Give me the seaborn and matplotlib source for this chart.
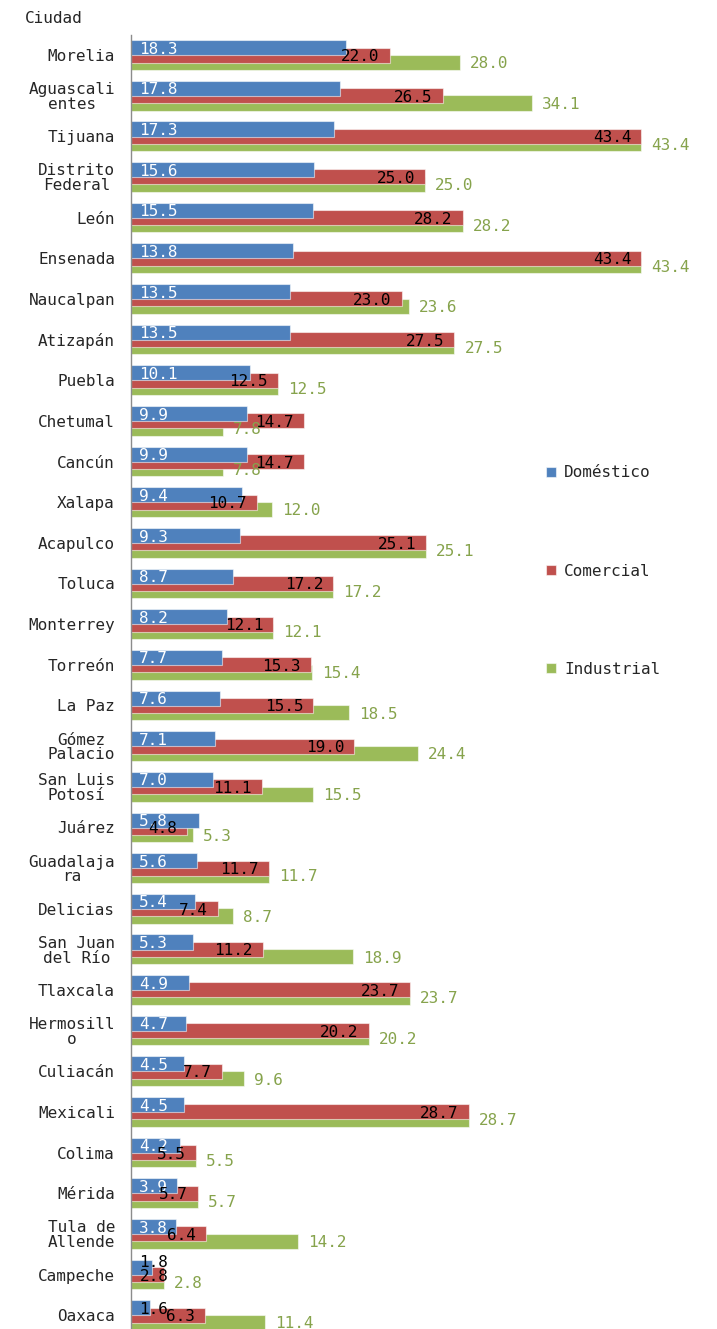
import textwrap

import matplotlib
matplotlib.use("Agg")
import matplotlib.pyplot as plt
import matplotlib.transforms as mtransforms
import pandas as pd
import seaborn as sns

# Tarifas por ciudad y tipo de usuario
ciudades = [
    "Morelia", "Aguascalientes", "Tijuana", "Distrito Federal", "León",
    "Ensenada", "Naucalpan", "Atizapán", "Puebla", "Chetumal", "Cancún",
    "Xalapa", "Acapulco", "Toluca", "Monterrey", "Torreón", "La Paz",
    "Gómez Palacio", "San Luis Potosí", "Juárez", "Guadalajara", "Delicias",
    "San Juan del Río", "Tlaxcala", "Hermosillo", "Culiacán", "Mexicali",
    "Colima", "Mérida", "Tula de Allende", "Campeche", "Oaxaca",
]
domestico = [
    18.3, 17.8, 17.3, 15.6, 15.5, 13.8, 13.5, 13.5, 10.1, 9.9, 9.9,
    9.4, 9.3, 8.7, 8.2, 7.7, 7.6, 7.1, 7.0, 5.8, 5.6, 5.4,
    5.3, 4.9, 4.7, 4.5, 4.5, 4.2, 3.9, 3.8, 1.8, 1.6,
]
comercial = [
    22.0, 26.5, 43.4, 25.0, 28.2, 43.4, 23.0, 27.5, 12.5, 14.7, 14.7,
    10.7, 25.1, 17.2, 12.1, 15.3, 15.5, 19.0, 11.1, 4.8, 11.7, 7.4,
    11.2, 23.7, 20.2, 7.7, 28.7, 5.5, 5.7, 6.4, 2.8, 6.3,
]
industrial = [
    28.0, 34.1, 43.4, 25.0, 28.2, 43.4, 23.6, 27.5, 12.5, 7.8, 7.8,
    12.0, 25.1, 17.2, 12.1, 15.4, 18.5, 24.4, 15.5, 5.3, 11.7, 8.7,
    18.9, 23.7, 20.2, 9.6, 28.7, 5.5, 5.7, 14.2, 2.8, 11.4,
]
series_nombres = ["Doméstico", "Comercial", "Industrial"]

AZUL, ROJO, VERDE = "#4F81BD", "#C0504D", "#9BBB59"
VERDE_TXT = "#86A34C"
FS = 11.5

sns.set_style("white")
plt.rcParams["font.family"] = ["DejaVu Sans Mono", "DejaVu Sans"]
plt.rcParams["font.size"] = FS

df = pd.DataFrame({
    "Ciudad": ciudades,
    "Doméstico": domestico,
    "Comercial": comercial,
    "Industrial": industrial,
})

W, H = 717, 1329
fig = plt.figure(figsize=(W / 100, H / 100), dpi=100)
ax = fig.add_axes([131 / W, 1 - 1335.5 / H, 541 / W, 1300.8 / H])

alto = 0.37     # grosor de cada barra
desp = 0.18     # desplazamiento vertical entre series superpuestas
capas = [("Industrial", VERDE, desp), ("Comercial", ROJO, 0.0), ("Doméstico", AZUL, -desp)]
manejadores = {}
for nombre, color, d in capas:
    n0 = len(ax.patches)
    sns.barplot(
        data=df, x=nombre, y="Ciudad", orient="h", color=color, saturation=1,
        width=alto, errorbar=None, ax=ax,
        edgecolor=(1, 1, 1, 0.55), linewidth=0.8,
    )
    nuevos = ax.patches[n0:]
    for p in nuevos:
        p.set_y(p.get_y() + d)
    manejadores[nombre] = nuevos[0]

n = len(ciudades)
ax.set_xlim(0, 46)
ax.set_ylim(n - 0.5, -0.5)
ax.set_xticks([])
ax.set_xlabel("")
ax.set_ylabel("")
ax.set_yticks(range(n))
ax.set_yticklabels(
    ["\n".join(textwrap.wrap(c, 9, break_long_words=True)) for c in ciudades],
    multialignment="center", linespacing=0.98,
)
ax.tick_params(axis="y", length=0, pad=11.5, labelsize=FS)
for lado in ("top", "right", "bottom"):
    ax.spines[lado].set_visible(False)
ax.spines["left"].set_color("#8C8C8C")
ax.spines["left"].set_linewidth(1.0)


def desplazado(dx, dy=0):
    return mtransforms.offset_copy(ax.transData, fig=fig, x=dx, y=dy, units="dots")


textos_azules = []
textos_rojos = []
for i in range(n):
    vd, vc, vi = domestico[i], comercial[i], industrial[i]
    fuera = vd < 2.5
    ta = ax.text(0, i - desp, f"{vd:.1f}", transform=desplazado(8), ha="left",
                 va="center_baseline", color="black" if fuera else "white")
    textos_azules.append((ta, fuera))
    ax.text(vi, i + desp, f"{vi:.1f}", transform=desplazado(10), ha="left",
            va="center_baseline", color=VERDE_TXT)
    t = ax.text(vc, i, f"{vc:.1f}", transform=desplazado(-10), ha="right",
                va="center_baseline", color="black")
    textos_rojos.append(t)

# Etiquetas comerciales que no caben: se apoyan en el eje
fig.canvas.draw()
rend = fig.canvas.get_renderer()
x_eje = ax.transData.transform((0, 0))[0]
for i, t in enumerate(textos_rojos):
    bb = t.get_window_extent(renderer=rend)
    if bb.x0 < x_eje + 9:
        t.set_x(0)
        t.set_transform(desplazado(9))
        t.set_ha("left")
        ta, fuera = textos_azules[i]
        if fuera:
            ta.set_transform(desplazado(8, 6))

ax.legend(
    handles=[manejadores[s] for s in series_nombres], labels=series_nombres,
    loc="center left", bbox_to_anchor=(546 / W, 1 - 571 / H),
    bbox_transform=fig.transFigure, frameon=False,
    handlelength=0.6, handleheight=0.6, handletextpad=0.55,
    labelspacing=5.2, borderpad=0, borderaxespad=0, fontsize=FS,
)

fig.text(25 / W, 1 - 17 / H, "Ciudad", ha="left", va="center_baseline", fontsize=FS)

fig.savefig("out.png", dpi=100)
